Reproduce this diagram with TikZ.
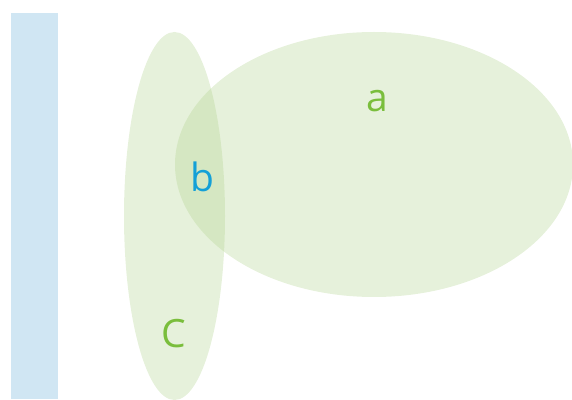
\documentclass[tikz,border=0pt]{standalone}
\usepackage{fontspec}
\setmainfont{Open Sans}
\usepackage{xcolor}
\usepackage{tikz}

\definecolor{barblue}{RGB}{208,230,243}
\definecolor{setgreen}{RGB}{177,211,142}
\definecolor{labgreen}{RGB}{122,190,60}
\definecolor{labblue}{RGB}{20,160,215}

\begin{document}
\begin{tikzpicture}[x=1pt,y=1pt,
  setfill/.style={fill=setgreen,fill opacity=0.32},
  setlabel/.style={anchor=base,inner sep=0pt,font=\fontsize{39}{47}\selectfont}]
  \useasboundingbox (0,0) rectangle (572,399);
  % bar on the left
  \fill[barblue] (11,0) rectangle (58,386);
  % the two sets
  \fill[setfill] (174.5,183) ellipse [x radius=50.5,y radius=184];
  \fill[setfill] (374,234.5) ellipse [x radius=199,y radius=132.5];
  % labels
  \node[setlabel,labgreen] (a) at (377,287) {a};
  \node[setlabel,labblue] (b) at (202,207) {b};
  \node[setlabel,labgreen] (c) at (174,52) {C};
\end{tikzpicture}
\end{document}
